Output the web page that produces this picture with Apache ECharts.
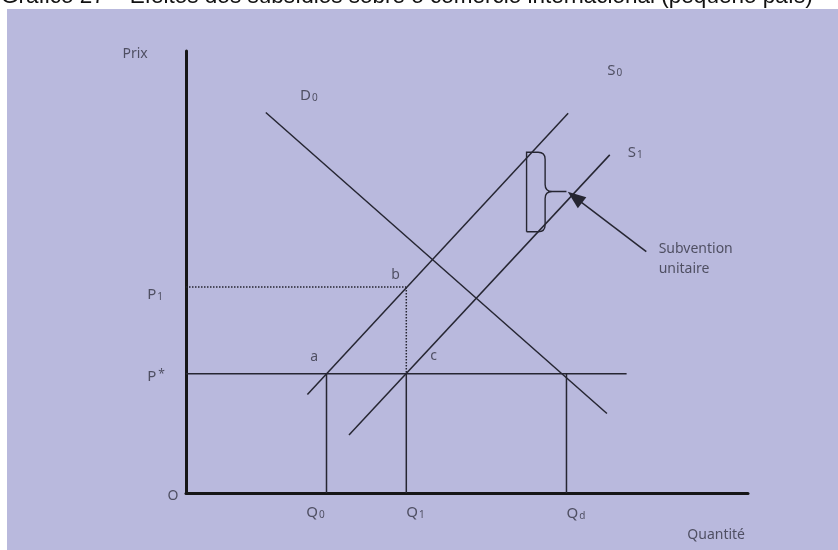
<!DOCTYPE html>
<html lang="fr">
<head>
<meta charset="UTF-8">
<title>Subvention unitaire</title>
<script src="https://cdn.jsdelivr.net/npm/echarts@6/dist/echarts.min.js"></script>
<style>
  html, body { margin: 0; padding: 0; background: #fff; }
  #chart { width: 838px; height: 550px; }
</style>
</head>
<body>
<div id="chart"></div>
<script>
// courbes (coordonnées dans le repère quantité / prix)
var demandD0 = [[14.2, 86.1], [74.9, 18.0]];
var supplyS0 = [[21.6, 22.3], [68.0, 85.9]];
var supplyS1 = [[29.0, 13.1], [75.4, 76.5]];

// prix et quantités
var pStar = 27;
var pOne = 46.6;
var pStarEnd = 78.4;
var q0 = 25, q1 = 39.2, qd = 67.7;

// accolade "subvention unitaire" : gauche, dos, pointe / bas, milieu, haut
var braceX = [60.6, 63.9, 67.7];
var braceY = [59.1, 68.2, 77.1];

// flèche : départ et pointe
var arrowFrom = [81.9, 54.6];
var arrowTo = [69.2, 66.9];

// textes : [texte, x, y]
var notes = [
    ['Prix', -11.3, 99.32],
    ['{b|D}{s|0}', 20.3, 89.9],
    ['{b|S}{s|0}', 74.95, 95.5],
    ['{b|S}{s|1}', 78.6, 77.0],
    ['Subvention\nunitaire', 84.1, 52.94],
    ['a', 22.1, 30.84],
    ['b', 36.5, 49.32],
    ['c', 43.45, 31.06],
    ['{b|P}{s|1}', -6.9, 44.9],
    ['{b|P}{p|*}', -6.9, 26.4],
    ['O', -3.3, -0.68],
    ['{b|Q}{s|0}', 21.4, -4.5],
    ['{b|Q}{s|1}', 39.2, -4.5],
    ['{b|Q}{s|d}', 67.7, -4.7],
    ['Quantité', 89.2, -9.5]
];

var title = 'Gráfico 27 – Efeitos dos subsídios sobre o comércio internacional (pequeno país)';

var ink = '#262632';
var textInk = '#343444';

function seg(name, pts, dashed) {
    return {
        name: name,
        type: 'line',
        data: pts,
        showSymbol: false,
        symbol: 'none',
        silent: true,
        lineStyle: { color: ink, width: 1.5, type: dashed ? 'dotted' : 'solid' },
        z: 3
    };
}

var series = [
    seg('D0', demandD0),
    seg('S0', supplyS0),
    seg('S1', supplyS1),
    seg('P*', [[0, pStar], [pStarEnd, pStar]]),
    seg('P1', [[0, pOne], [q1, pOne]], true),
    seg('b-c', [[q1, pOne], [q1, pStar]], true),
    seg('Q0', [[q0, 0], [q0, pStar]]),
    seg('Q1', [[q1, 0], [q1, pStar]]),
    seg('Qd', [[qd, 0], [qd, pStar]]),
    {
        type: 'custom',
        name: 'accolade',
        silent: true,
        data: [[braceX[0], braceX[1], braceX[2], braceY[0], braceY[1], braceY[2]]],
        renderItem: function (params, api) {
            var L = api.coord([api.value(0), 0])[0];
            var S = api.coord([api.value(1), 0])[0];
            var T = api.coord([api.value(2), 0])[0];
            var bot = api.coord([0, api.value(3)])[1];
            var mid = api.coord([0, api.value(4)])[1];
            var top = api.coord([0, api.value(5)])[1];
            var r = 7;
            var d = 'M' + L + ' ' + bot + ' L' + L + ' ' + top +
                ' L' + (S - r) + ' ' + top +
                ' Q' + S + ' ' + top + ' ' + S + ' ' + (top + r) +
                ' L' + S + ' ' + (mid - r) +
                ' Q' + S + ' ' + mid + ' ' + (S + r) + ' ' + mid +
                ' L' + T + ' ' + mid +
                ' M' + (S + r) + ' ' + mid +
                ' Q' + S + ' ' + mid + ' ' + S + ' ' + (mid + r) +
                ' L' + S + ' ' + (bot - r) +
                ' Q' + S + ' ' + bot + ' ' + (S - r) + ' ' + bot +
                ' L' + L + ' ' + bot;
            return {
                type: 'path',
                shape: { pathData: d },
                style: { fill: 'none', stroke: ink, lineWidth: 1.4 }
            };
        },
        z: 3
    },
    {
        type: 'line',
        name: 'flèche',
        data: [],
        silent: true,
        markLine: {
            silent: true,
            symbol: ['none', 'triangle'],
            symbolSize: [14, 18],
            label: { show: false },
            lineStyle: { color: ink, width: 1.5, type: 'solid' },
            itemStyle: { color: '#111' },
            data: [[{ coord: arrowFrom }, { coord: arrowTo }]],
            animation: false
        }
    },
    {
        type: 'scatter',
        name: 'textes',
        silent: true,
        clip: false,
        symbolSize: 0,
        data: notes.map(function (n) { return { value: [n[1], n[2]], name: n[0] }; }),
        label: {
            show: true,
            position: 'right',
            distance: 0,
            formatter: function (p) { return p.name; },
            color: textInk,
            fontFamily: 'Noto Sans',
            fontSize: 14,
            lineHeight: 20,
            rich: {
                b: { fontSize: 15, lineHeight: 15, verticalAlign: 'top', color: textInk, fontFamily: 'Noto Sans' },
                s: { fontSize: 10, lineHeight: 10, verticalAlign: 'bottom', padding: [11, 0, 0, 1], color: textInk, fontFamily: 'Noto Sans' },
                p: { fontSize: 12, lineHeight: 12, verticalAlign: 'top', padding: [0, 0, 0, 2], color: textInk, fontFamily: 'Noto Sans' }
            }
        },
        z: 5
    }
];

var chart = echarts.init(document.getElementById('chart'));
chart.setOption({
    animation: false,
    backgroundColor: '#ffffff',
    graphic: [
        {
            type: 'rect',
            shape: { x: 7, y: 9, width: 831, height: 541 },
            style: { fill: '#b9b9dd' },
            silent: true,
            z: -10
        },
        {
            type: 'text',
            x: 1,
            y: 8,
            style: {
                text: title,
                fill: '#111',
                fontFamily: 'Liberation Sans',
                fontSize: 22.5,
                verticalAlign: 'bottom'
            },
            silent: true
        }
    ],
    grid: { left: 186, top: 51, right: 90, bottom: 57 },
    xAxis: {
        type: 'value',
        min: 0,
        max: 100,
        axisLine: { show: true, onZero: false, lineStyle: { color: '#161616', width: 3 } },
        axisTick: { show: false },
        axisLabel: { show: false },
        splitLine: { show: false }
    },
    yAxis: {
        type: 'value',
        min: 0,
        max: 100,
        axisLine: { show: true, onZero: false, lineStyle: { color: '#161616', width: 3 } },
        axisTick: { show: false },
        axisLabel: { show: false },
        splitLine: { show: false }
    },
    series: series
});
</script>
</body>
</html>
